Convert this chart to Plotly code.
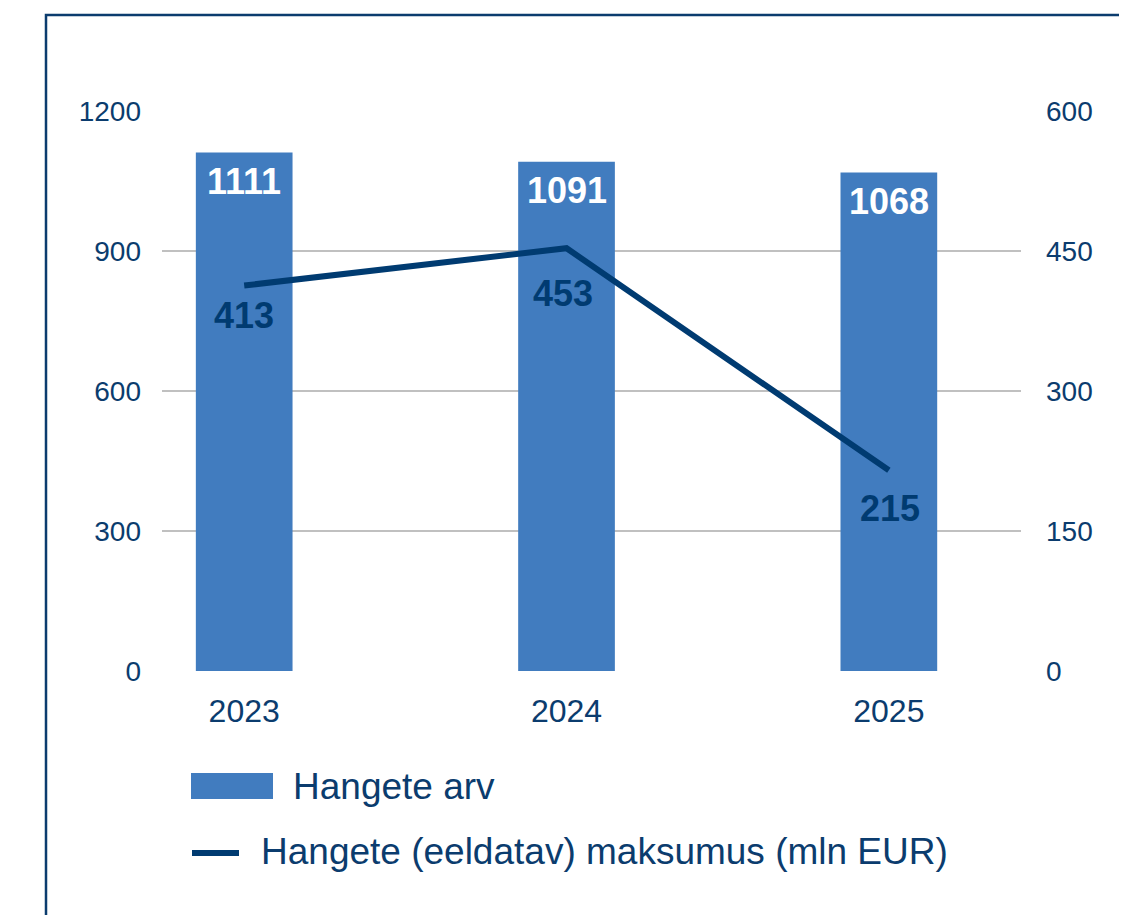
import plotly.graph_objects as go

years = ["2023", "2024", "2025"]
hangete_arv = [1111, 1091, 1068]
maksumus = [413, 453, 215]
left_ticks = [0, 300, 600, 900, 1200]
right_ticks = [0, 150, 300, 450, 600]
bar_name = "Hangete arv"
line_name = "Hangete (eeldatav) maksumus (mln EUR)"

BAR = "#417CBF"
NAVY = "#003B71"
TXT = "#0B3C6E"
FONT = "Liberation Sans, Arial, sans-serif"

# label offsets in pixels (style only)
line_label_yshift = [-30, -45, -38]
line_label_xshift = [0, -4, 1]
bar_label_yshift = -29

xpos = list(range(len(years)))

fig = go.Figure()
fig.add_trace(go.Bar(
    x=xpos, y=hangete_arv, name=bar_name, width=0.3,
    marker=dict(color=BAR, line=dict(width=0)),
    showlegend=False, hoverinfo="x+y",
))
fig.add_trace(go.Scatter(
    x=xpos, y=maksumus, name=line_name, yaxis="y2",
    mode="lines", line=dict(color=NAVY, width=6),
    cliponaxis=False, showlegend=False,
))

for i, v in enumerate(hangete_arv):
    fig.add_annotation(x=xpos[i], y=v, xref="x", yref="y", text=str(v),
                       showarrow=False, xanchor="center", yanchor="middle",
                       yshift=bar_label_yshift,
                       font=dict(family=FONT, size=36, color="white", weight="bold"))
for i, v in enumerate(maksumus):
    fig.add_annotation(x=xpos[i], y=v, xref="x", yref="y2", text=str(v),
                       showarrow=False, xanchor="center", yanchor="middle",
                       yshift=line_label_yshift[i], xshift=line_label_xshift[i],
                       font=dict(family=FONT, size=36, color=NAVY, weight="bold"))

# page has an 8px body margin; figure sized/offset to compensate
fig.update_layout(
    width=1119, height=907,
    margin=dict(l=154, r=106, t=103, b=244),
    paper_bgcolor="white", plot_bgcolor="white",
    font=dict(family=FONT, color=TXT),
    showlegend=False,
    xaxis=dict(
        range=[-0.255, 2.41], tickmode="array", tickvals=xpos, ticktext=years,
        showgrid=False, zeroline=False, showline=False, ticks="",
        tickfont=dict(family=FONT, size=32, color=TXT), ticklabelstandoff=18,
    ),
    yaxis=dict(
        range=[0, 1200], tickmode="array", tickvals=left_ticks,
        showgrid=True, gridcolor="#C0C0C0", gridwidth=1.5,
        zeroline=False, showline=False, ticks="",
        tickfont=dict(family=FONT, size=28, color=TXT), ticklabelstandoff=20,
    ),
    yaxis2=dict(
        range=[0, 600], tickmode="array", tickvals=right_ticks,
        overlaying="y", side="right", showgrid=False, zeroline=False,
        showline=False, ticks="",
        tickfont=dict(family=FONT, size=28, color=TXT), ticklabelstandoff=24,
    ),
)

# convert page pixels to paper coords (plot area: x 162..1021, y 111..671 on page)
def px_x(p):
    return (p - 162) / 859.0

def px_y(p):
    return (671 - p) / 560.0

shapes = [
    dict(type="rect", xref="paper", yref="paper",
         x0=px_x(46), x1=px_x(1122), y0=px_y(960), y1=px_y(15),
         line=dict(color="#0B3C6E", width=2.5), fillcolor="rgba(0,0,0,0)", layer="below"),
    dict(type="rect", xref="paper", yref="paper",
         x0=px_x(191), x1=px_x(273), y0=px_y(799), y1=px_y(773),
         line=dict(width=0), fillcolor=BAR),
    dict(type="line", xref="paper", yref="paper",
         x0=px_x(192), x1=px_x(239), y0=px_y(853), y1=px_y(853),
         line=dict(color=NAVY, width=6)),
]
fig.update_layout(shapes=shapes)

fig.add_annotation(xref="paper", yref="paper", x=px_x(291), y=px_y(786),
                   xanchor="left", yanchor="middle", showarrow=False,
                   text=bar_name, font=dict(family=FONT, size=37, color=TXT))
fig.add_annotation(xref="paper", yref="paper", x=px_x(259), y=px_y(851),
                   xanchor="left", yanchor="middle", showarrow=False,
                   text=line_name, font=dict(family=FONT, size=37, color=TXT))

fig.write_html("out.html")
